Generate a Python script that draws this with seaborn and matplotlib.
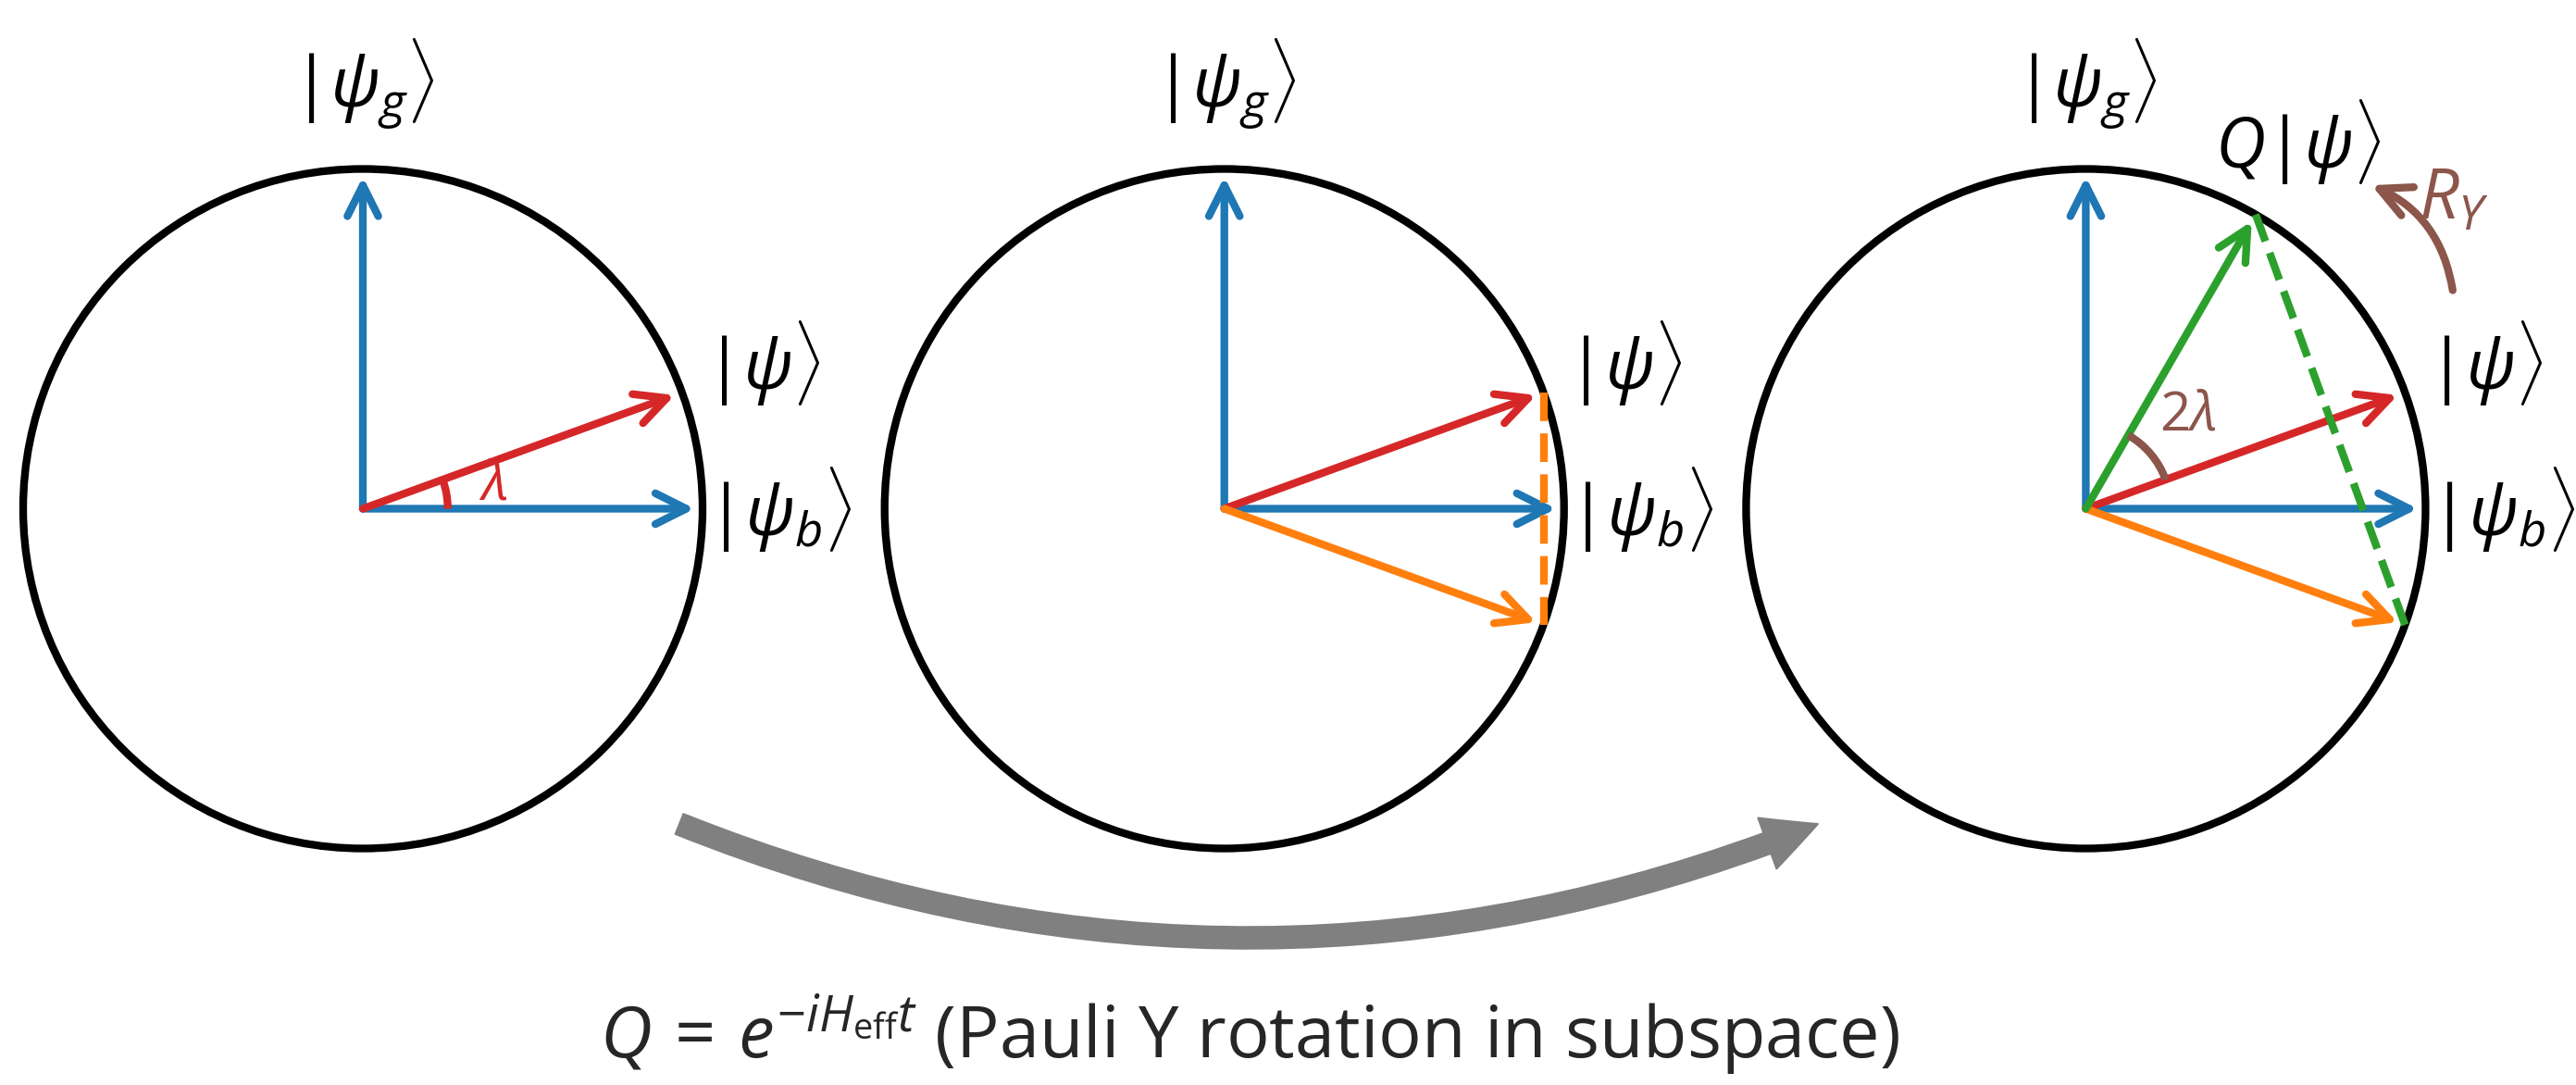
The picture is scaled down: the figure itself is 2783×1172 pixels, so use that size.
import numpy as np
import matplotlib
matplotlib.use("Agg")
import matplotlib.pyplot as plt
from matplotlib.patches import Circle, FancyArrowPatch, Arc
import seaborn as sns
import pandas as pd

# ---------------- data ----------------
lam = 20.0                                   # λ in degrees
panel_x = [0.0, 2.536, 5.072]                # centres of the three unit circles
# vectors per panel: (angle in degrees, colour)
panel_vectors = [
    [(90, "#1f77b4"), (0, "#1f77b4"), (20, "#d62728")],
    [(90, "#1f77b4"), (0, "#1f77b4"), (20, "#d62728"), (-20, "#ff7f0e")],
    [(90, "#1f77b4"), (0, "#1f77b4"), (20, "#d62728"), (-20, "#ff7f0e"), (60, "#2ca02c")],
]
# dashed reflection lines: (panel, start angle, end angle, colour)
dashed_lines = [(1, 20, -20, "#ff7f0e"), (2, 60, -20, "#2ca02c")]
# angle arcs: (panel, theta1, theta2, colour, label, label pos)
angle_arcs = [(0, 0, 20, "#d62728", r"$\lambda$", (0.384, 0.069)),
              (2, 20, 60, "#8c564b", r"$2\lambda$", (0.301, 0.274))]
# state labels: (panel, text, x, y, ha)
state_labels = []
for p in range(3):
    state_labels += [(p, r"$|\psi_g\rangle$", 0.0, 1.25, "center"),
                     (p, r"$|\psi\rangle$", 1.005, 0.43, "left"),
                     (p, r"$|\psi_b\rangle$", 1.012, 0.0, "left")]
state_labels.append((2, r"$Q|\psi\rangle$", 0.625, 1.08, "center"))
caption = r"$Q\,=\,e^{-iH_{\mathrm{eff}}t}$ (Pauli Y rotation in subspace)"

# ---------------- style ----------------
sns.set_theme(style="white")
plt.rcParams["font.family"] = ["Open Sans", "DejaVu Sans"]
plt.rcParams["mathtext.fontset"] = "custom"
plt.rcParams["mathtext.rm"] = "Open Sans"
plt.rcParams["mathtext.it"] = "Open Sans:italic"
plt.rcParams["mathtext.bf"] = "Open Sans:bold"
plt.rcParams["mathtext.sf"] = "Open Sans"

W, H, DPI = 2783, 1172, 300
fig = plt.figure(figsize=(W / DPI, H / DPI), dpi=DPI)
ax = fig.add_axes([0, 0, 1, 1])
R = 367.0
ax.set_xlim(-392 / R, (W - 392) / R)
ax.set_ylim(-(H - 549.5) / R, 549.5 / R)
ax.axis("off")

for p, cx in enumerate(panel_x):
    ax.add_patch(Circle((cx, 0), 1.0, fill=False, ec="black", lw=2, zorder=2))
    for ang, col in panel_vectors[p]:
        t = np.deg2rad(ang)
        ax.add_patch(FancyArrowPatch((cx, 0), (cx + np.cos(t), np.sin(t)),
                                     arrowstyle="->", mutation_scale=20, lw=2,
                                     color=col, shrinkA=0, shrinkB=2, zorder=3))

for p, a1, a2, col in dashed_lines:
    cx = panel_x[p]
    t1, t2 = np.deg2rad(a1), np.deg2rad(a2)
    df = pd.DataFrame({"x": [cx + np.cos(t1), cx + np.cos(t2)],
                       "y": [np.sin(t1), np.sin(t2)]})
    sns.lineplot(data=df, x="x", y="y", ax=ax, color=col, lw=2, ls="--",
                 sort=False, estimator=None, zorder=4)

for p, th1, th2, col, lab, (lx, ly) in angle_arcs:
    cx = panel_x[p]
    ax.add_patch(Arc((cx, 0), 0.5, 0.5, theta1=th1, theta2=th2, color=col, lw=2, zorder=3))
    ax.text(cx + lx, ly, lab, color=col, fontsize=14, ha="center", va="center", zorder=5)

for p, txt, x, y, ha in state_labels:
    ax.text(panel_x[p] + x, y, txt, fontsize=18, ha=ha, va="center", color="black")

# rotation arrow R_Y
cx3 = panel_x[2]
ax.add_patch(FancyArrowPatch((cx3 + 1.080, 0.643), (cx3 + 0.841, 0.952),
                             arrowstyle="->", mutation_scale=20, lw=2, color="#8c564b",
                             connectionstyle="arc3,rad=0.27", shrinkA=0, shrinkB=0))
ax.text(cx3 + 1.083, 0.906, r"$R_Y$", color="#8c564b", fontsize=18, ha="center", va="center")

# big grey transition arrow
ax.add_patch(FancyArrowPatch((0.932, -0.928), (4.283, -0.928),
                             arrowstyle="simple", mutation_scale=28, lw=0.5,
                             color="gray", connectionstyle="arc3,rad=0.2",
                             shrinkA=0, shrinkB=0))

ax.text(2.610, -1.617, caption, fontsize=18.6, ha="center", va="baseline")

fig.savefig("out.png", dpi=DPI)
